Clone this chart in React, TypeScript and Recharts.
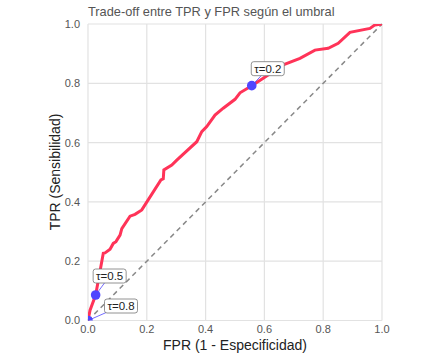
import {
  ComposedChart, Line, Scatter, XAxis, YAxis, CartesianGrid, ReferenceLine,
} from "recharts";

// Curva ROC
const FPR = [0, 0.007, 0.026, 0.052, 0.058, 0.075, 0.086, 0.095, 0.109, 0.115, 0.143, 0.16, 0.183,
  0.248, 0.256, 0.258, 0.285, 0.302, 0.37, 0.387, 0.404, 0.432, 0.46, 0.5, 0.517, 0.557,
  0.596, 0.664, 0.721, 0.772, 0.817, 0.851, 0.891, 0.959, 0.976, 1];
const TPR = [0, 0.035, 0.086, 0.227, 0.228, 0.24, 0.26, 0.266, 0.288, 0.31, 0.352, 0.358, 0.373,
  0.474, 0.478, 0.508, 0.524, 0.541, 0.603, 0.637, 0.654, 0.693, 0.716, 0.746, 0.768, 0.792,
  0.817, 0.862, 0.884, 0.912, 0.918, 0.935, 0.972, 0.985, 0.997, 1];

// Umbrales marcados
const THRESHOLDS = ["τ=0.2", "τ=0.5", "τ=0.8"];
const THR_FPR = [0.557, 0.026, 0];
const THR_TPR = [0.792, 0.086, 0];

const TICKS = [0, 0.2, 0.4, 0.6, 0.8, 1];

// desplazamiento de cada etiqueta (px) respecto al punto
const LABEL_OFFSETS = [[16, -17], [14, -19], [33, -14.5]];

const FONT = "Liberation Sans, Arial, sans-serif";
const RED = "#ff3358";
const BLUE = "#5046ff";

const curve = FPR.map((x, i) => ({ x, y: TPR[i] }));
const points = THRESHOLDS.map((label, i) => ({ x: THR_FPR[i], y: THR_TPR[i], label, i }));

function ThresholdLabel(props: any) {
  const { cx, cy, payload } = props;
  if (cx == null || cy == null) return null;
  const [dx, dy] = LABEL_OFFSETS[payload.i];
  const bx = cx + dx;
  const by = cy + dy;
  const w = 33;
  const h = 14;
  return (
    <g>
      <line x1={cx} y1={cy} x2={bx} y2={by} stroke={BLUE} strokeOpacity={0.8} strokeWidth={1} />
      <rect x={bx - w / 2} y={by - h / 2} width={w} height={h} rx={2.5}
        fill="#fff" stroke="#777" strokeWidth={0.8} />
      <text x={bx} y={by} textAnchor="middle" dominantBaseline="central"
        fontSize={11.5} fontFamily={FONT} fill="#222">{payload.label}</text>
    </g>
  );
}

function Dot(props: any) {
  const { cx, cy } = props;
  if (cx == null || cy == null) return null;
  return <circle cx={cx} cy={cy} r={4.8} fill={BLUE} />;
}

export default function App() {
  return (
    <div style={{ position: "absolute", left: 0, top: 0, background: "#fff" }}>
      <ComposedChart
        width={432}
        height={360}
        margin={{ top: 24, right: 50, left: 58, bottom: 17.5 }}
      >
        <text x={88} y={16} fontSize={12.8} fontFamily={FONT} fill="#555">
          Trade-off entre TPR y FPR según el umbral
        </text>
        <CartesianGrid stroke="#e2e2e2" strokeWidth={1.2} />
        <XAxis
          type="number" dataKey="x" domain={[0, 1]} ticks={TICKS} allowDataOverflow
          axisLine={false} tickLine={false} tickSize={3} tickMargin={2} height={22}
          tickFormatter={(v: number) => v.toFixed(1)}
          tick={{ fontSize: 11, fontFamily: FONT, fill: "#555" }}
          label={{
            content: () => (
              <text x={235} y={350} textAnchor="middle" fontSize={14} fontFamily={FONT} fill="#222">
                FPR (1 - Especificidad)
              </text>
            ),
          }}
        />
        <YAxis
          type="number" dataKey="y" domain={[0, 1]} ticks={TICKS} allowDataOverflow
          axisLine={false} tickLine={false} tickSize={3} tickMargin={5} width={30}
          tickFormatter={(v: number) => v.toFixed(1)}
          tick={{ fontSize: 11, fontFamily: FONT, fill: "#555" }}
          label={{
            content: () => (
              <text x={60} y={172} textAnchor="middle" fontSize={14} fontFamily={FONT} fill="#222"
                transform="rotate(-90 60 172)">
                TPR (Sensibilidad)
              </text>
            ),
          }}
        />
        <ReferenceLine
          segment={[{ x: 0, y: 0 }, { x: 1, y: 1 }]}
          stroke="#888" strokeWidth={1.5} strokeDasharray="5 4"
        />
        <Line
          data={curve} dataKey="y" type="linear" stroke={RED} strokeWidth={3}
          dot={false} activeDot={false} isAnimationActive={false}
        />
        <Scatter data={points} dataKey="y" shape={<Dot />} isAnimationActive={false} />
        <Scatter data={points} dataKey="y" shape={<ThresholdLabel />} isAnimationActive={false} />
      </ComposedChart>
    </div>
  );
}
